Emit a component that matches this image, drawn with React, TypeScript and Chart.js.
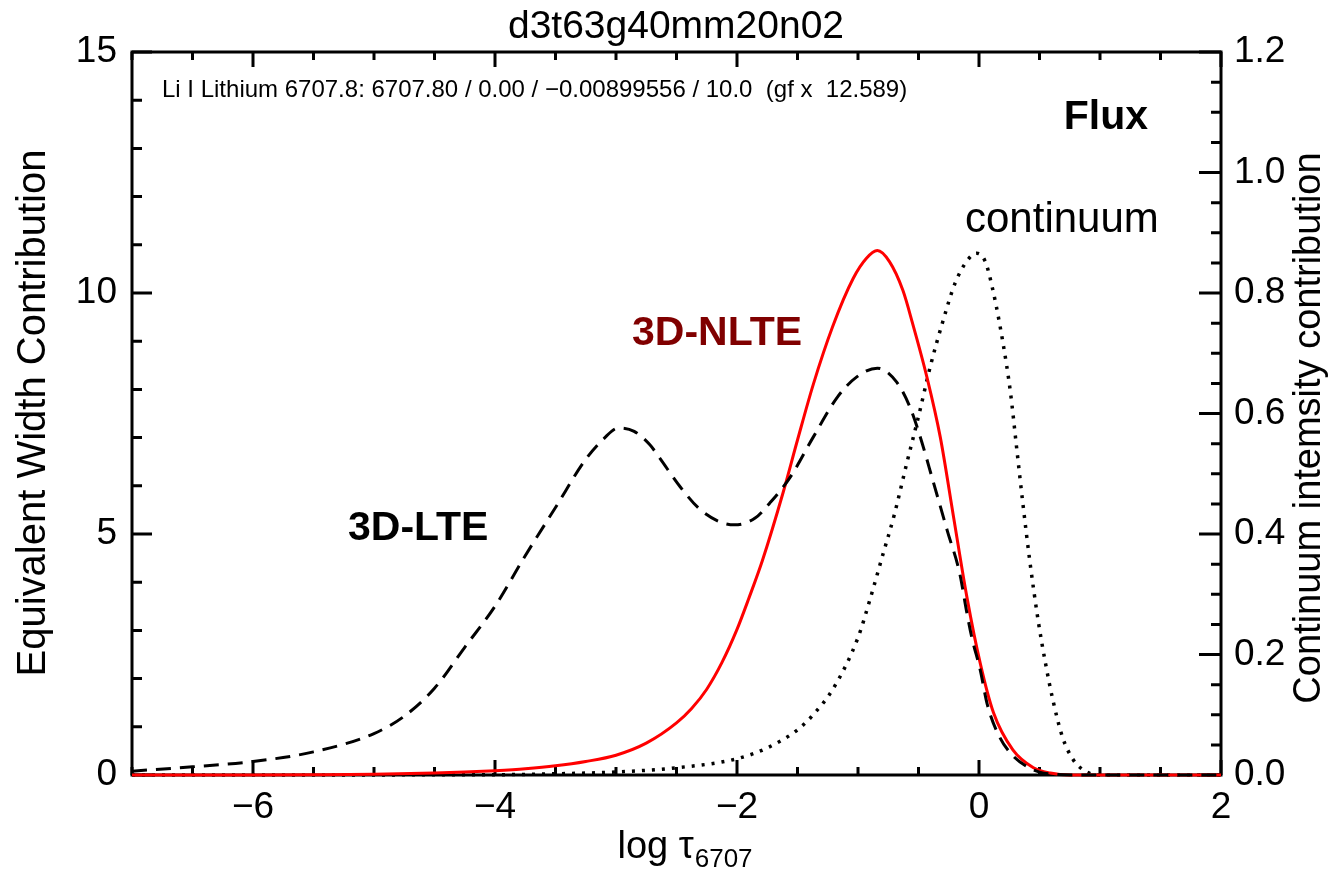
import React, { useEffect, useRef } from 'react';
import { Chart, registerables } from 'chart.js';

Chart.register(...registerables);

const FONT = '"Liberation Sans", Arial, Helvetica, sans-serif';

// ---- Data ----
const X_TICKS = [-6, -4, -2, 0, 2];
const Y_LEFT_TICKS = [0, 5, 10, 15];
const Y_RIGHT_TICKS = [0, 0.2, 0.4, 0.6, 0.8, 1.0, 1.2];

// 3D-LTE equivalent width contribution (dashed, left axis)
const LTE_X = [-7.0, -6.5, -6.0, -5.5, -5.0, -4.75, -4.5, -4.25, -4.0, -3.75, -3.5, -3.25, -3.1, -2.98, -2.85, -2.72, -2.64, -2.47, -2.31, -2.14, -2.02, -1.85, -1.73, -1.56, -1.37, -1.17, -1.01, -0.84, -0.68, -0.57, -0.49, -0.38, -0.26, -0.16, -0.1, -0.06, 0.01, 0.07, 0.17, 0.28, 0.4, 0.5, 0.65, 0.8, 2.0];
const LTE_Y = [0.08, 0.17, 0.28, 0.48, 0.86, 1.22, 1.8, 2.65, 3.5, 4.55, 5.55, 6.55, 6.98, 7.2, 7.13, 6.85, 6.58, 5.98, 5.52, 5.25, 5.19, 5.33, 5.64, 6.18, 7.01, 7.84, 8.26, 8.44, 8.15, 7.63, 7.05, 6.1, 5.05, 4.19, 3.36, 2.86, 2.18, 1.45, 0.79, 0.4, 0.17, 0.06, 0.01, 0, 0];

// 3D-NLTE equivalent width contribution (red solid, left axis)
const NLTE_X = [-7.0, -6.0, -5.5, -5.0, -4.5, -4.25, -4.0, -3.75, -3.5, -3.25, -3.0, -2.75, -2.5, -2.375, -2.25, -2.125, -2.0, -1.9, -1.79, -1.62, -1.5, -1.37, -1.21, -1.04, -0.93, -0.84, -0.74, -0.63, -0.55, -0.43, -0.32, -0.21, -0.1, 0.01, 0.12, 0.28, 0.45, 0.59, 0.75, 2.0];
const NLTE_Y = [0, 0.002, 0.006, 0.015, 0.04, 0.06, 0.09, 0.13, 0.19, 0.28, 0.41, 0.66, 1.08, 1.38, 1.78, 2.33, 3.02, 3.68, 4.45, 5.85, 6.95, 8.1, 9.3, 10.3, 10.72, 10.88, 10.65, 10.06, 9.38, 8.25, 7.01, 5.35, 3.69, 2.32, 1.29, 0.52, 0.15, 0.04, 0, 0];

// Continuum intensity contribution (dotted, right axis)
const CONT_X = [-7.0, -4.0, -3.5, -3.0, -2.5, -2.0, -1.75, -1.5, -1.37, -1.2, -1.0, -0.9, -0.8, -0.7, -0.6, -0.5, -0.4, -0.3, -0.2, -0.1, -0.02, 0.05, 0.12, 0.2, 0.26, 0.31, 0.36, 0.42, 0.49, 0.55, 0.61, 0.69, 0.78, 0.89, 1.0, 2.0];
const CONT_Y = [0, 0.0005, 0.002, 0.005, 0.012, 0.027, 0.045, 0.075, 0.1, 0.145, 0.228, 0.292, 0.362, 0.432, 0.515, 0.595, 0.68, 0.752, 0.815, 0.853, 0.866, 0.853, 0.8, 0.715, 0.635, 0.545, 0.455, 0.355, 0.255, 0.185, 0.125, 0.063, 0.025, 0.005, 0, 0];

// ---- Texts ----
const TITLE = 'd3t63g40mm20n02';
const LINE_INFO = 'Li I Lithium 6707.8: 6707.80 / 0.00 / \u22120.00899556 / 10.0  (gf x  12.589)';
const Y_LEFT_TITLE = 'Equivalent Width Contribution';
const Y_RIGHT_TITLE = 'Continuum intemsity contribution';
const X_TITLE_MAIN = 'log \u03c4';
const X_TITLE_SUB = '6707';
const LABEL_FLUX = 'Flux';
const LABEL_CONT = 'continuum';
const LABEL_NLTE = '3D-NLTE';
const LABEL_LTE = '3D-LTE';

const toPoints = (xs: number[], ys: number[]) => xs.map((x, i) => ({ x, y: ys[i] }));

const boxPlugin = {
  id: 'boxTicks',
  beforeDatasetsDraw(chart: any) {
    const { ctx, chartArea, scales } = chart;
    const { left, right, top, bottom } = chartArea;
    ctx.save();
    ctx.strokeStyle = '#000';
    ctx.lineWidth = 3;
    ctx.lineCap = 'butt';
    ctx.strokeRect(left, top, right - left, bottom - top);
    ctx.beginPath();
    for (let i = 0; i <= 18; i++) {
      const v = -7 + i * 0.5;
      const px = scales.x.getPixelForValue(v);
      const major = Math.abs(v % 2) < 1e-6;
      const len = major ? 15 : 8;
      ctx.moveTo(px, bottom);
      ctx.lineTo(px, bottom - len);
      ctx.moveTo(px, top);
      ctx.lineTo(px, top + len);
    }
    for (let i = 0; i <= 15; i++) {
      const py = scales.y.getPixelForValue(i);
      const len = i % 5 === 0 ? 20 : 10;
      ctx.moveTo(left, py);
      ctx.lineTo(left + len, py);
    }
    for (let i = 0; i <= 24; i++) {
      const py = scales.y1.getPixelForValue(i * 0.05);
      const len = i % 4 === 0 ? 22 : 10;
      ctx.moveTo(right, py);
      ctx.lineTo(right - len, py);
    }
    ctx.stroke();
    ctx.restore();
  },
};

const textPlugin = {
  id: 'texts',
  afterDraw(chart: any) {
    const { ctx } = chart;
    ctx.save();
    ctx.fillStyle = '#000';
    ctx.textBaseline = 'alphabetic';

    // Title
    ctx.font = `39px ${FONT}`;
    ctx.textAlign = 'center';
    ctx.fillText(TITLE, 676, 38);

    // Line info
    ctx.font = `24px ${FONT}`;
    ctx.textAlign = 'left';
    ctx.fillText(LINE_INFO, 162, 97, 756);

    // Flux
    ctx.font = `bold 41px ${FONT}`;
    ctx.textAlign = 'right';
    ctx.fillText(LABEL_FLUX, 1148, 129);

    // continuum
    ctx.font = `42px ${FONT}`;
    ctx.textAlign = 'left';
    ctx.fillText(LABEL_CONT, 965, 232);

    // 3D-NLTE
    ctx.font = `bold 41px ${FONT}`;
    ctx.fillStyle = '#800000';
    ctx.fillText(LABEL_NLTE, 632, 345);

    // 3D-LTE
    ctx.fillStyle = '#000';
    ctx.fillText(LABEL_LTE, 348, 540);

    // X title
    ctx.font = `38px ${FONT}`;
    const w1 = ctx.measureText(X_TITLE_MAIN).width;
    ctx.font = `26px ${FONT}`;
    const w2 = ctx.measureText(X_TITLE_SUB).width;
    const startX = 685 - (w1 + w2 + 1) / 2;
    ctx.font = `38px ${FONT}`;
    ctx.textAlign = 'left';
    ctx.fillText(X_TITLE_MAIN, startX, 858);
    ctx.font = `26px ${FONT}`;
    ctx.fillText(X_TITLE_SUB, startX + w1 + 1, 867);

    // Left Y title
    ctx.font = `40px ${FONT}`;
    ctx.textAlign = 'center';
    ctx.save();
    ctx.translate(45, 413);
    ctx.rotate(-Math.PI / 2);
    ctx.fillText(Y_LEFT_TITLE, 0, 0);
    ctx.restore();

    // Right Y title
    ctx.font = `38px ${FONT}`;
    ctx.save();
    ctx.translate(1320, 428);
    ctx.rotate(-Math.PI / 2);
    ctx.fillText(Y_RIGHT_TITLE, 0, 0);
    ctx.restore();

    ctx.restore();
  },
};

export default function App() {
  const ref = useRef<HTMLCanvasElement>(null);

  useEffect(() => {
    if (!ref.current) return;
    const tickFont = { family: FONT, size: 37 };
    const common = { pointRadius: 0, cubicInterpolationMode: 'monotone', fill: false, clip: false };
    const chart = new Chart(ref.current, {
      type: 'line',
      data: {
        datasets: [
          {
            ...common,
            label: LABEL_LTE,
            data: toPoints(LTE_X, LTE_Y),
            yAxisID: 'y',
            borderColor: '#000',
            borderWidth: 3,
            borderDash: [15, 9],
          },
          {
            ...common,
            label: LABEL_NLTE,
            data: toPoints(NLTE_X, NLTE_Y),
            yAxisID: 'y',
            borderColor: '#ff0000',
            borderWidth: 3,
          },
          {
            ...common,
            label: LABEL_CONT,
            data: toPoints(CONT_X, CONT_Y),
            yAxisID: 'y1',
            borderColor: '#000',
            borderWidth: 3.5,
            borderDash: [3, 7],
          },
        ],
      },
      options: {
        responsive: false,
        animation: false,
        events: [],
        layout: { padding: { top: 52, left: 0, right: 0, bottom: 0 } },
        plugins: {
          legend: { display: false },
          tooltip: { enabled: false },
          title: { display: false },
        },
        scales: {
          x: {
            type: 'linear',
            position: 'bottom',
            min: -7,
            max: 2,
            grid: { display: false, drawTicks: false },
            border: { display: false },
            afterBuildTicks: (s: any) => {
              s.ticks = X_TICKS.map((v) => ({ value: v }));
            },
            afterFit: (s: any) => {
              s.height = 106;
            },
            ticks: {
              font: tickFont,
              color: '#000',
              padding: 11,
              maxRotation: 0,
              autoSkip: false,
              callback: (v: any) => (Number(v) < 0 ? '\u2212' + Math.abs(Number(v)) : String(v)),
            },
          },
          y: {
            type: 'linear',
            position: 'left',
            min: 0,
            max: 15,
            grid: { display: false, drawTicks: false },
            border: { display: false },
            afterBuildTicks: (s: any) => {
              s.ticks = Y_LEFT_TICKS.map((v) => ({ value: v }));
            },
            afterFit: (s: any) => {
              s.width = 132;
            },
            ticks: {
              font: tickFont,
              color: '#000',
              padding: 15,
              autoSkip: false,
              callback: (v: any) => String(v),
            },
          },
          y1: {
            type: 'linear',
            position: 'right',
            min: 0,
            max: 1.2,
            grid: { display: false, drawTicks: false },
            border: { display: false },
            afterBuildTicks: (s: any) => {
              s.ticks = Y_RIGHT_TICKS.map((v) => ({ value: v }));
            },
            afterFit: (s: any) => {
              s.width = 115;
            },
            ticks: {
              font: tickFont,
              color: '#000',
              padding: 13,
              autoSkip: false,
              callback: (v: any) => Number(v).toFixed(1),
            },
          },
        },
      },
      plugins: [boxPlugin, textPlugin],
    } as any);
    return () => chart.destroy();
  }, []);

  return (
    <div style={{ position: 'fixed', left: 0, top: 0, width: 1336, height: 881, background: '#fff', overflow: 'hidden' }}>
      <canvas ref={ref} width={1336} height={881} style={{ display: 'block', width: 1336, height: 881 }} />
    </div>
  );
}
